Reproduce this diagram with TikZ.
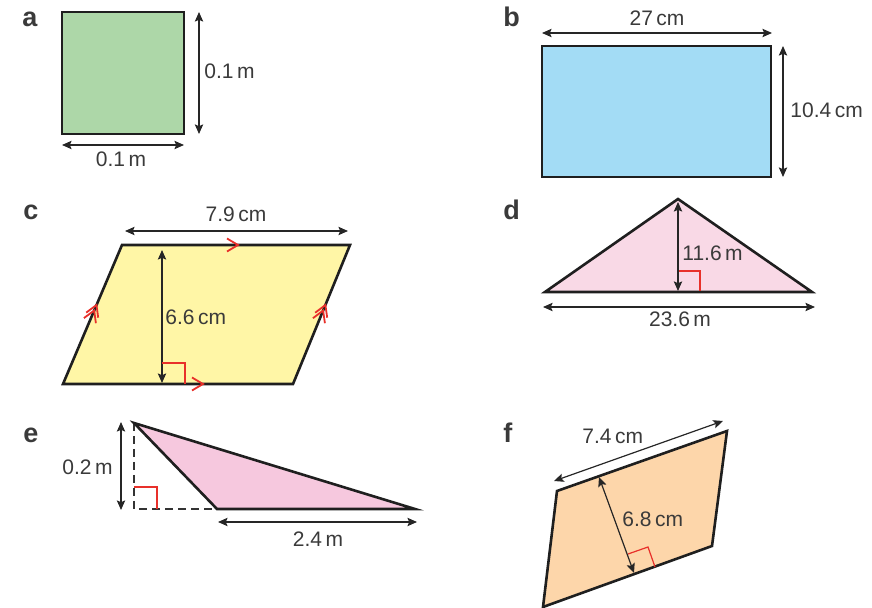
\documentclass[tikz,border=0pt]{standalone}
\usepackage{fontspec}
\setmainfont{Liberation Sans}
\usetikzlibrary{arrows.meta}
\definecolor{txt}{HTML}{3A3A3A}
\definecolor{redm}{HTML}{E8302A}
\definecolor{fa}{HTML}{ADD7A8}
\definecolor{fb}{HTML}{A3DCF5}
\definecolor{fc}{HTML}{FFF6A6}
\definecolor{fd}{HTML}{F9D9E6}
\definecolor{fe}{HTML}{F6C8DE}
\definecolor{ff}{HTML}{FDD6AA}
\begin{document}
\begin{tikzpicture}[x=0.5pt,y=-0.5pt,
  shp/.style={draw=black!88, line width=1.3pt, line join=miter},
  dim/.style={draw=black!85, line width=0.6pt, {Stealth[length=4.8pt,width=4.2pt,inset=0.9pt]}-{Stealth[length=4.8pt,width=4.2pt,inset=0.9pt]}},
  lbl/.style={font=\fontsize{10.5}{12}\selectfont, text=txt, inner sep=0pt},
  qlbl/.style={font=\fontsize{13.5}{15}\selectfont\bfseries, text=txt, inner sep=0pt, anchor=base west},
  ra/.style={draw=redm, line width=0.6pt},
  chv/.style={draw=redm, line width=0.9pt, line join=miter}]
\useasboundingbox (0,0) rectangle (872,608);

% ---------- a ----------
\node[qlbl] (la) at (22,27) {a};
\coordinate (a1) at (62,12); \coordinate (a2) at (184,134);
\draw[shp, fill=fa] (a1) rectangle (a2);
\coordinate (av1) at (199,12); \coordinate (av2) at (199,134);
\coordinate (ah1) at (62,145); \coordinate (ah2) at (184,145);
\draw[dim] (av1) -- (av2);
\draw[dim] (ah1) -- (ah2);
\node[lbl, anchor=base west] (ta1) at (204,79) {0.1\,m};
\node[lbl, anchor=base] (ta2) at (121,167) {0.1\,m};

% ---------- b ----------
\node[qlbl] (lb) at (503,27) {b};
\coordinate (b1) at (542,46); \coordinate (b2) at (771,177);
\draw[shp, fill=fb] (b1) rectangle (b2);
\coordinate (bh1) at (542,33); \coordinate (bh2) at (772,33);
\coordinate (bv1) at (783,46); \coordinate (bv2) at (783,177);
\draw[dim] (bh1) -- (bh2);
\draw[dim] (bv1) -- (bv2);
\node[lbl, anchor=base] (tb1) at (657,26) {27\,cm};
\node[lbl, anchor=base west] (tb2) at (790,118) {10.4\,cm};

% ---------- c ----------
\node[qlbl] (lc) at (23,220) {c};
\coordinate (cBL) at (63,384); \coordinate (cTL) at (122,245);
\coordinate (cTR) at (350,245); \coordinate (cBR) at (293,384);
\draw[shp, fill=fc] (cBL) -- (cTL) -- (cTR) -- (cBR) -- cycle;
% parallel marks
\draw[chv] (227,238.5) -- (238,245) -- (227,251.5);
\draw[chv] (192,377.5) -- (203,384) -- (192,390.5);
\draw[chv] (98.2,317.7) -- (96.5,305) -- (86.2,312.6);
\draw[chv] (95.9,323.2) -- (94.2,310.5) -- (83.9,318.1);
\draw[chv] (327.2,317.7) -- (325.4,305) -- (315.2,312.7);
\draw[chv] (324.9,323.2) -- (323.1,310.6) -- (312.9,318.2);
\coordinate (ch1) at (125,231); \coordinate (ch2) at (348,231);
\coordinate (cv1) at (162,250); \coordinate (cv2) at (162,383);
\draw[dim] (ch1) -- (ch2);
\draw[dim] (cv1) -- (cv2);
\draw[ra] (162,363) -- (185,363) -- (185,384);
\node[lbl, anchor=base] (tc1) at (236,222) {7.9\,cm};
\node[lbl, anchor=base west] (tc2) at (165,325) {6.6\,cm};

% ---------- d ----------
\node[qlbl] (ld) at (503,220) {d};
\coordinate (dL) at (545,292); \coordinate (dA) at (678,199); \coordinate (dR) at (812,292);
\draw[shp, fill=fd] (dL) -- (dA) -- (dR) -- cycle;
\coordinate (dv1) at (678,202); \coordinate (dv2) at (678,291);
\coordinate (dh1) at (543,307); \coordinate (dh2) at (815,307);
\draw[ra] (678,271) -- (700,271) -- (700,291);
\draw[dim] (dv1) -- (dv2);
\draw[dim] (dh1) -- (dh2);
\node[lbl, anchor=base west] (td1) at (682,261) {11.6\,m};
\node[lbl, anchor=base] (td2) at (680,327) {23.6\,m};

% ---------- e ----------
\node[qlbl] (le) at (23,443) {e};
\coordinate (eA) at (134,423); \coordinate (eB) at (217,509); \coordinate (eC) at (415,509);
\coordinate (eF) at (134,509);
\draw[black!80, line width=0.6pt, dash pattern=on 4pt off 2.5pt] (eA) -- (eF) -- (eB);
\draw[ra] (134,487) -- (157,487) -- (157,509);
\draw[shp, fill=fe] (eA) -- (eB) -- (eC) -- cycle;
\coordinate (ev1) at (121,422); \coordinate (ev2) at (121,510);
\coordinate (eh1) at (218,522); \coordinate (eh2) at (417,522);
\draw[dim] (ev1) -- (ev2);
\draw[dim] (eh1) -- (eh2);
\node[lbl, anchor=base east] (te1) at (113,474) {0.2\,m};
\node[lbl, anchor=base] (te2) at (318,546) {2.4\,m};

% ---------- f ----------
\node[qlbl] (lf) at (503,443) {f};
\coordinate (fTL) at (557,491); \coordinate (fTR) at (727,431);
\coordinate (fBR) at (712,546); \coordinate (fBL) at (543,607);
\draw[shp, fill=ff] (fTL) -- (fTR) -- (fBR) -- (fBL) -- cycle;
\coordinate (fh1) at (554,481); \coordinate (fh2) at (723,421);
\coordinate (fv1) at (599,477); \coordinate (fv2) at (634,573);
\draw[ra] (628,554) -- (648,547) -- (655,567);
\draw[dim] (fh1) -- (fh2);
\draw[dim] (fv1) -- (fv2);
\node[lbl, anchor=base west] (tf1) at (582,444) {7.4\,cm};
\node[lbl, anchor=base west] (tf2) at (622,526) {6.8\,cm};
\end{tikzpicture}
\end{document}
